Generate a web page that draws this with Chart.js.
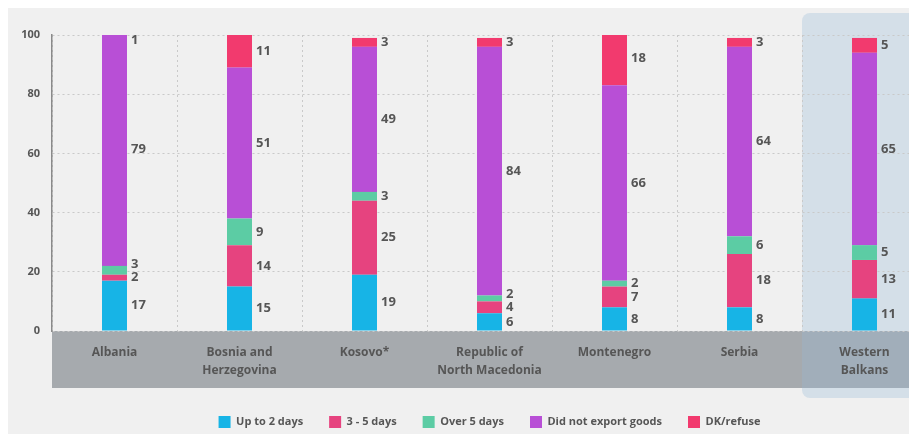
<!DOCTYPE html>
<html>
<head>
<meta charset="utf-8">
<script src="https://cdn.jsdelivr.net/npm/chart.js@4.4.1/dist/chart.umd.min.js"></script>
<style>
  html, body { margin: 0; padding: 0; background: #fff; overflow: hidden; }
  #wrap { position: absolute; left: 0; top: 0; width: 940px; height: 438px; }
</style>
</head>
<body>
<div id="wrap"><canvas id="exportChart"></canvas></div>
<script>
  // categories and series (percent of firms)
  const countries = [
    'Albania',
    ['Bosnia and', 'Herzegovina'],
    'Kosovo*',
    ['Republic of', 'North Macedonia'],
    'Montenegro',
    'Serbia',
    ['Western', 'Balkans']
  ];
  const upTo2Days   = [17, 15, 19, 6, 8, 8, 11];
  const days3to5    = [2, 14, 25, 4, 7, 18, 13];
  const over5Days   = [3, 9, 3, 2, 2, 6, 5];
  const didNotExport = [79, 51, 49, 84, 66, 64, 65];
  const dkRefuse    = [1, 11, 3, 3, 18, 3, 5];
  const yTicks = [0, 20, 40, 60, 80, 100];

  const FONT = '"Open Sans", sans-serif';
  const TEXT = '#565656';

  // panel, label band and the highlighted Western Balkans column
  const backdrop = {
    id: 'backdrop',
    beforeDraw(chart) {
      const { ctx, chartArea, scales } = chart;
      const x = scales.x;
      ctx.save();
      ctx.fillStyle = '#f0f0f0';
      ctx.fillRect(8, 8, chart.width, chart.height);
      ctx.fillStyle = '#a6aaae';
      ctx.fillRect(chartArea.left, chartArea.bottom, chart.width - chartArea.left, 57);
      const step = x.getPixelForValue(1) - x.getPixelForValue(0);
      const hx = x.getPixelForValue(countries.length - 1) - step / 2;
      ctx.fillStyle = 'rgba(150, 185, 215, 0.3)';
      ctx.beginPath();
      ctx.roundRect(hx, 13, chart.width - hx + 10, 385, 8);
      ctx.fill();
      ctx.restore();
    }
  };

  // value labels to the right of every segment
  const segmentLabels = {
    id: 'segmentLabels',
    afterDatasetsDraw(chart) {
      const { ctx, chartArea } = chart;
      ctx.save();
      ctx.font = 'bold 13px ' + FONT;
      ctx.fillStyle = TEXT;
      ctx.textAlign = 'left';
      ctx.textBaseline = 'middle';
      countries.forEach((c, i) => {
        let prevY = Infinity;
        chart.data.datasets.forEach((ds, d) => {
          const bar = chart.getDatasetMeta(d).data[i];
          let y = (bar.y + bar.base) / 2;
          y = Math.max(y, chartArea.top + 5);
          if (y > prevY - 13) y = prevY - 13;
          y = Math.max(y, chartArea.top + 5);
          prevY = y;
          ctx.fillText(ds.data[i], bar.x + bar.width / 2 + 4, y);
        });
      });
      ctx.restore();
    }
  };

  document.addEventListener('DOMContentLoaded', () => {
    const ctx = document.getElementById('exportChart').getContext('2d');
    new Chart(ctx, {
      type: 'bar',
      data: {
        labels: countries,
        datasets: [
          { label: 'Up to 2 days', data: upTo2Days, backgroundColor: '#17b4e6' },
          { label: '3 - 5 days', data: days3to5, backgroundColor: '#e6437f' },
          { label: 'Over 5 days', data: over5Days, backgroundColor: '#5ccca4' },
          { label: 'Did not export goods', data: didNotExport, backgroundColor: '#b84fd6' },
          { label: 'DK/refuse', data: dkRefuse, backgroundColor: '#f23a6e' }
        ]
      },
      options: {
        responsive: true,
        maintainAspectRatio: false,
        animation: false,
        categoryPercentage: 1,
        barPercentage: 0.2,
        layout: { padding: { left: 0, top: 35, right: 13, bottom: 0 } },
        scales: {
          x: {
            stacked: true,
            grid: { color: '#c9c9c9', drawTicks: false, offset: true },
            border: { display: false, dash: [2, 3] },
            ticks: {
              color: TEXT,
              padding: 13,
              maxRotation: 0,
              autoSkip: false,
              font: { family: FONT, size: 12, weight: 'bold', lineHeight: 1.5 }
            },
            afterFit(scale) { scale.height = 59; }
          },
          y: {
            stacked: true,
            min: 0,
            max: 100,
            afterBuildTicks(scale) { scale.ticks = yTicks.map(v => ({ value: v })); },
            grid: { color: '#c9c9c9', drawTicks: false },
            border: { display: true, color: '#8a8a8a', width: 1.5, dash: [2, 3] },
            ticks: {
              color: TEXT,
              padding: 12,
              font: { family: FONT, size: 11, weight: 'bold' }
            },
            afterFit(scale) { scale.width = 52; }
          }
        },
        plugins: {
          legend: {
            position: 'bottom',
            fullSize: false,
            labels: {
              boxWidth: 12,
              boxHeight: 12,
              padding: 26,
              color: TEXT,
              font: { family: FONT, size: 11, weight: 'bold' }
            }
          },
          tooltip: { enabled: false }
        }
      },
      plugins: [backdrop, segmentLabels]
    });
  });
</script>
</body>
</html>
